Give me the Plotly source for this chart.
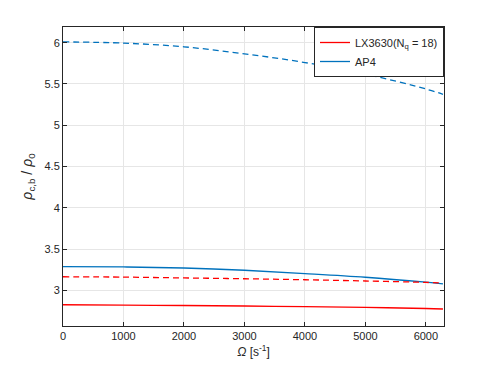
import plotly.graph_objects as go

omega = [0, 1000, 2000, 3000, 4000, 5000, 6000, 6283]
lx_solid = [2.827, 2.823, 2.818, 2.812, 2.805, 2.795, 2.782, 2.776]
lx_dashed = [3.166, 3.162, 3.152, 3.142, 3.130, 3.115, 3.098, 3.090]
ap4_solid = [3.290, 3.285, 3.272, 3.245, 3.205, 3.160, 3.100, 3.080]
ap4_dashed = [6.010, 5.995, 5.950, 5.865, 5.760, 5.620, 5.440, 5.375]

red = "#ff0000"
blue = "#0072bd"

fig = go.Figure()
fig.add_trace(go.Scatter(x = omega, y = lx_solid, mode = "lines", line = dict(color = red, width = 1.3, shape = "spline"),
                         name = "LX3630(N<sub>q</sub> = 18)"))
fig.add_trace(go.Scatter(x = omega, y = ap4_solid, mode = "lines", line = dict(color = blue, width = 1.3, shape = "spline"),
                         name = "AP4"))
fig.add_trace(go.Scatter(x = omega, y = lx_dashed, mode = "lines", line = dict(color = red, width = 1.3, dash = "6px,4px", shape = "spline"),
                         showlegend = False))
fig.add_trace(go.Scatter(x = omega, y = ap4_dashed, mode = "lines", line = dict(color = blue, width = 1.3, dash = "6px,4px", shape = "spline"),
                         showlegend = False))

axis_style = dict(showline = True, linecolor = "#262626", linewidth = 1, mirror = "ticks", ticks = "inside",
                  ticklen = 4, tickcolor = "#262626", showgrid = True, gridcolor = "#e6e6e6", zeroline = False,
                  automargin = False,
                  tickfont = dict(family = "Liberation Sans, Arial", size = 11, color = "#262626"))

fig.update_xaxes(range = [0, 6300], tickvals = [0, 1000, 2000, 3000, 4000, 5000, 6000], **axis_style,
                 title = dict(text = "<i>Ω</i> [s<sup>-1</sup>]", standoff = 6,
                              font = dict(family = "Liberation Sans, Arial", size = 12, color = "#262626")))
fig.update_yaxes(range = [2.57, 6.19], tickvals = [3, 3.5, 4, 4.5, 5, 5.5, 6], ticktext = ["3", "3.5", "4", "4.5", "5", "5.5", "6"],
                 **axis_style,
                 title = dict(text = "<i>ρ</i><sub>c,b</sub> / <i>ρ</i><sub>0</sub>", standoff = 8,
                              font = dict(family = "Liberation Sans, Arial", size = 14, color = "#262626")))

# page body adds ~8px offset, so the figure is drawn a bit smaller
fig.update_layout(
    width = 483, height = 360,
    margin = dict(l = 55, r = 47, t = 19, b = 42),
    paper_bgcolor = "white", plot_bgcolor = "white",
    font = dict(family = "Liberation Sans, Arial", size = 11, color = "#262626"),
    legend = dict(x = 1, y = 1, xanchor = "right", yanchor = "top", bgcolor = "white",
                  bordercolor = "#262626", borderwidth = 1, font = dict(size = 11, color = "#262626"),
                  tracegroupgap = 0, itemwidth = 30),
)

fig.write_html("out.html")
